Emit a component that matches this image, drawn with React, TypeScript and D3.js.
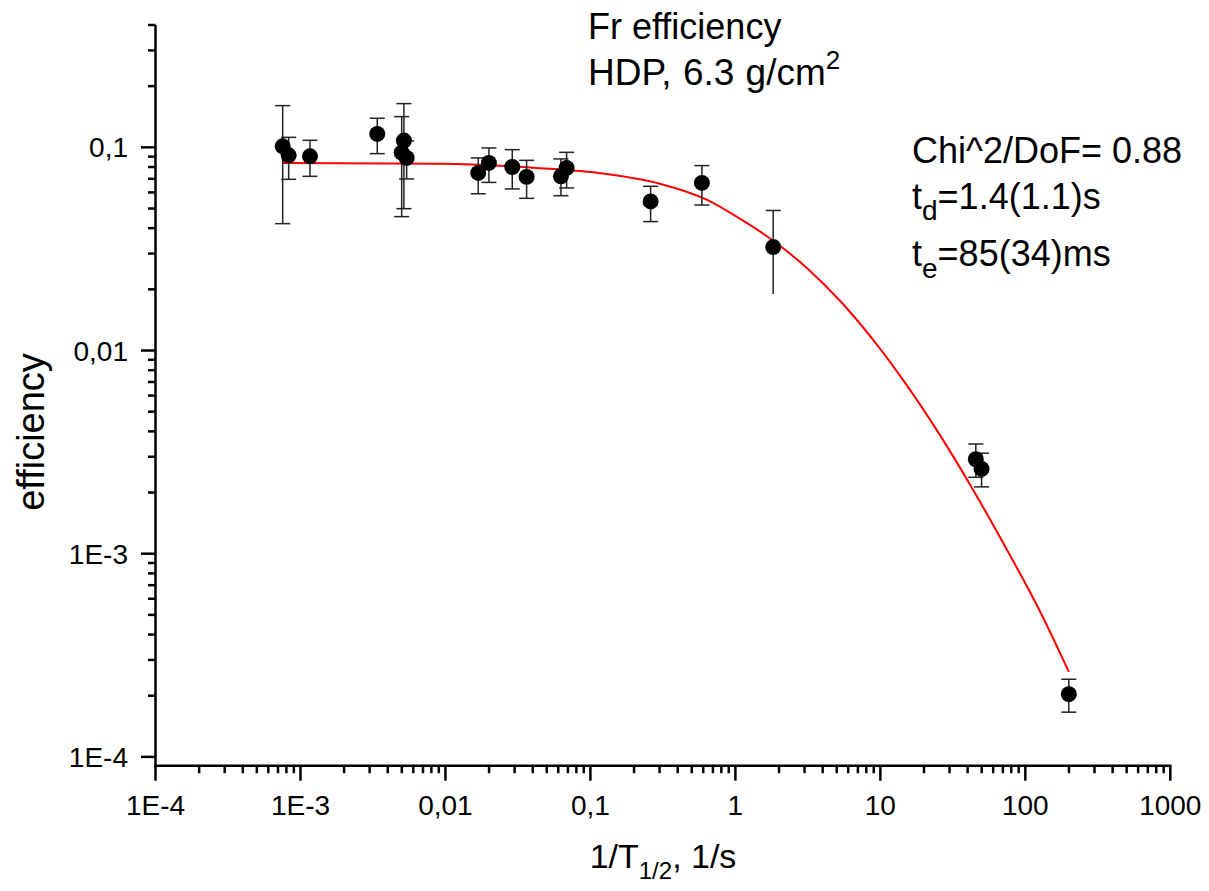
import React from "react";
import * as d3 from "d3";

// ---- data ----
const pointX = [0.000754, 0.000829, 0.001163, 0.003386, 0.00499, 0.00517, 0.0054, 0.01683, 0.01995, 0.0289, 0.0363, 0.0626, 0.0685, 0.2602, 0.5875, 1.823, 45.56, 49.9, 199.5];
const pointY = [0.1011, 0.0913, 0.0903, 0.1164, 0.0942, 0.1079, 0.0887, 0.0748, 0.0838, 0.080, 0.0715, 0.072, 0.0792, 0.0542, 0.0668, 0.0323, 0.002917, 0.002613, 0.0002036];
const errUp = [0.0593, 0.0207, 0.018, 0.0226, 0.0474, 0.0562, 0.0188, 0.0139, 0.0155, 0.0174, 0.0148, 0.0157, 0.0153, 0.0101, 0.0145, 0.0166, 0.00055, 0.00051, 0.0000374];
const errDown = [0.059, 0.0217, 0.0183, 0.0233, 0.0486, 0.058, 0.0188, 0.0157, 0.0166, 0.0176, 0.0154, 0.0142, 0.0161, 0.0111, 0.0148, 0.0133, 0.00054, 0.00048, 0.0000376];
const lowerCap = [true, true, true, true, true, true, true, true, true, true, true, true, true, true, true, false, true, true, true];

const fitX = [0.000757, 0.00917, 0.0448, 0.1163, 0.3015, 0.633, 1.074, 1.823, 3.097, 5.265, 8.918, 15.16, 25.72, 43.65, 74.2, 125.9, 199.5];
const fitY = [0.0838, 0.0831, 0.0790, 0.0746, 0.0662, 0.05525, 0.04455, 0.0347, 0.02555, 0.01757, 0.01129, 0.006776, 0.003843, 0.00206, 0.001055, 0.000522, 0.000262];

const xTickVals = [1e-4, 1e-3, 0.01, 0.1, 1, 10, 100, 1000];
const xTickLabels = ["1E-4", "1E-3", "0,01", "0,1", "1", "10", "100", "1000"];
const yTickVals = [1e-4, 1e-3, 0.01, 0.1];
const yTickLabels = ["1E-4", "1E-3", "0,01", "0,1"];

const FONT = "Arial, 'Liberation Sans', Helvetica, sans-serif";

export default function App() {
  const W = 1209, H = 891;
  const x = d3.scaleLog().domain([1e-4, 1000]).range([155.5, 1170.3]);
  const y = d3.scaleLog().domain([9.05e-5, 0.4]).range([765.7, 25]);
  const [x0, x1] = x.range();
  const [yb, yt] = y.range();

  const xMinor: number[] = [];
  for (let e = -4; e < 3; e++) for (let k = 2; k <= 9; k++) xMinor.push(k * Math.pow(10, e));
  const yMinor: number[] = [];
  for (let e = -5; e < 0; e++) for (let k = 2; k <= 9; k++) {
    const v = k * Math.pow(10, e);
    if (v >= 9.05e-5 && v <= 0.4 + 1e-9) yMinor.push(v);
  }

  const line = d3.line<number>()
    .x((_, i) => x(fitX[i]))
    .y((_, i) => y(fitY[i]))
    .curve(d3.curveMonotoneX);

  const capW = 7.5;

  return (
    <svg width={W} height={H} style={{ position: "absolute", left: 0, top: 0, background: "#fff" }} fontFamily={FONT}>
      <rect width={W} height={H} fill="#fff" />
      {/* fit curve */}
      <path d={line(fitX) || ""} fill="none" stroke="#ff0000" strokeWidth={2} />
      {/* error bars */}
      {pointX.map((v, i) => {
        const cx = x(v);
        const top = y(pointY[i] + errUp[i]);
        const bot = y(pointY[i] - errDown[i]);
        return (
          <g key={"e" + i} stroke="#222" strokeWidth={1.5}>
            <line x1={cx} x2={cx} y1={top} y2={bot} />
            <line x1={cx - capW} x2={cx + capW} y1={top} y2={top} />
            {lowerCap[i] && <line x1={cx - capW} x2={cx + capW} y1={bot} y2={bot} />}
          </g>
        );
      })}
      {/* points */}
      {pointX.map((v, i) => (
        <circle key={"p" + i} cx={x(v)} cy={y(pointY[i])} r={8} fill="#000" />
      ))}
      {/* axes */}
      <g stroke="#000" strokeWidth={2.5}>
        <line x1={x0 - 1.2} x2={x1 + 1.2} y1={yb} y2={yb} />
        <line x1={x0} x2={x0} y1={yb + 1.2} y2={yt} />
        {xTickVals.map((v) => <line key={"xt" + v} x1={x(v)} x2={x(v)} y1={yb} y2={yb + 15} />)}
        {xMinor.map((v) => <line key={"xm" + v} x1={x(v)} x2={x(v)} y1={yb} y2={yb + 7.5} />)}
        {yTickVals.map((v) => <line key={"yt" + v} x1={x0} x2={x0 - 14.5} y1={y(v)} y2={y(v)} />)}
        {yMinor.map((v) => <line key={"ym" + v} x1={x0} x2={x0 - 7.5} y1={y(v)} y2={y(v)} />)}
      </g>
      {/* tick labels */}
      <g fontSize={28} fill="#000">
        {xTickVals.map((v, i) => (
          <text key={"xl" + v} x={x(v)} y={815} textAnchor="middle">{xTickLabels[i]}</text>
        ))}
        {yTickVals.map((v, i) => (
          <text key={"yl" + v} x={128} y={y(v) + 10} textAnchor="end">{yTickLabels[i]}</text>
        ))}
      </g>
      {/* axis titles */}
      <text x={663} y={868} textAnchor="middle" fontSize={34}>
        1/T<tspan fontSize={24} dy={11}>1/2</tspan><tspan dy={-11}>, 1/s</tspan>
      </text>
      <text transform="translate(44,432) rotate(-90)" textAnchor="middle" fontSize={38}>efficiency</text>
      {/* title */}
      <text x={588} y={39} fontSize={36}>Fr efficiency</text>
      <text x={588} y={85} fontSize={37} wordSpacing={1}>
        HDP, 6.3 g/cm<tspan fontSize={26} dy={-16}>2</tspan>
      </text>
      {/* fit annotation */}
      <text x={912} y={163} fontSize={36}>Chi^2/DoF= 0.88</text>
      <text x={912} y={209} fontSize={36}>
        t<tspan fontSize={28} dy={11}>d</tspan><tspan dy={-11}>=1.4(1.1)s</tspan>
      </text>
      <text x={912} y={266} fontSize={36}>
        t<tspan fontSize={28} dy={12}>e</tspan><tspan dy={-12}>=85(34)ms</tspan>
      </text>
    </svg>
  );
}
